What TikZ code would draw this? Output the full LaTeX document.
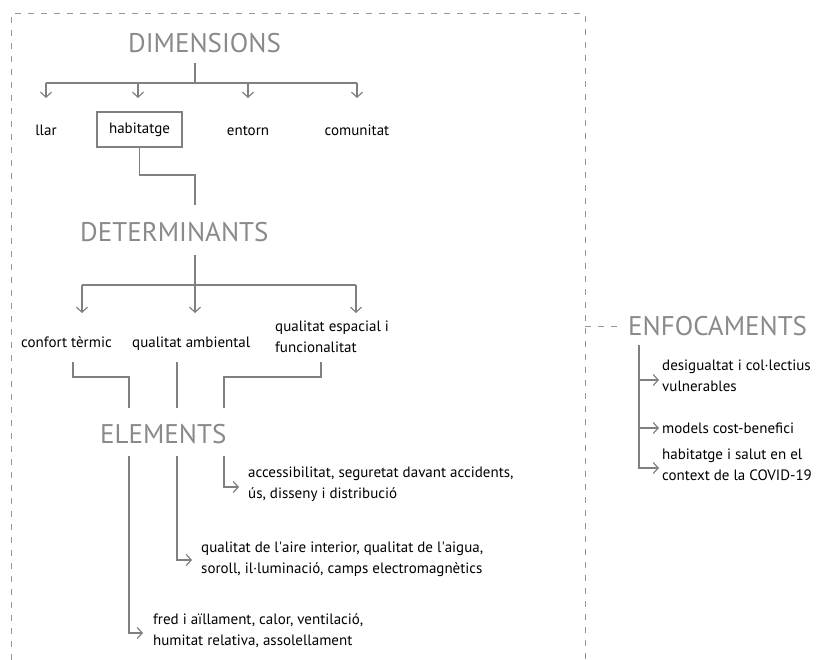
\documentclass[tikz,border=0pt]{standalone}
\usepackage{fontspec}
\setmainfont{PT Sans}
\usetikzlibrary{arrows.meta}
\definecolor{linegray}{RGB}{128,128,128}
\definecolor{headgray}{RGB}{138,138,138}
\definecolor{framegray}{RGB}{150,150,150}
\begin{document}
\begin{tikzpicture}[x=1pt,y=-1pt,
  headtext/.style={font=\fontsize{27}{27}\selectfont, text=headgray, inner sep=0pt, anchor=base west},
  itemtext/.style={font=\fontsize{15}{21}\selectfont, inner sep=0pt},
  blocktext/.style={itemtext, anchor=base west, align=left},
  conn/.style={draw=linegray, line width=1.2pt},
  arr/.style={conn, -{Straight Barb[length=5pt,width=11pt]}},
  dashframe/.style={draw=framegray, line width=1pt, dash pattern=on 6pt off 7pt},
]
\useasboundingbox (0,0) rectangle (840,660);

% dashed frame around the three levels, with a lead to the approaches
\coordinate (fl) at (11,660);
\coordinate (ftl) at (11,14);
\coordinate (ftr) at (585,14);
\coordinate (fr) at (585,660);
\coordinate (fm) at (585,326);
\coordinate (fe) at (622,326);
\draw[dashframe] (fl) -- (ftl) -- (ftr) -- (fr);
\draw[dashframe] (fm) -- (fe);

% headings
\node[headtext] (dim) at (128,53) {DIMENSIONS};
\node[headtext] (det) at (80,242) {DETERMINANTS};
\node[headtext] (ele) at (100,443) {ELEMENTS};
\node[headtext] (enf) at (628,335) {ENFOCAMENTS};

% dimensions
\node[itemtext, anchor=base] (llar) at (46,136) {llar};
\node[itemtext, draw=linegray, line width=1.2pt, minimum width=85pt, minimum height=35pt] (hab) at (139.5,129.5) {habitatge};
\node[itemtext, anchor=base] (ent) at (248,136) {entorn};
\node[itemtext, anchor=base] (com) at (357,136) {comunitat};

\coordinate (d0) at (195,63);
\coordinate (d1) at (195,83);
\coordinate (a1) at (46,83);
\coordinate (a2) at (138,83);
\coordinate (a3) at (248,83);
\coordinate (a4) at (357,83);
\coordinate (dtip) at (0,98);
\draw[conn] (d0) -- (d1);
\draw[conn] (a1) -- (a4);
\foreach \c in {a1,a2,a3,a4} \draw[arr] (\c) -- (\c |- dtip);

% habitatge leads to the determinants
\coordinate (hk) at (195,175);
\coordinate (dt0) at (195,205);
\draw[conn] (hab.south) |- (hk) -- (dt0);

% determinants (two-line blocks are placed by the baseline of their last line)
\node[itemtext, anchor=base west] (conf) at (21,347) {confort tèrmic};
\node[itemtext, anchor=base west] (amb) at (132,347) {qualitat ambiental};
\node[blocktext] (esp) at (275,352) {qualitat espacial i\\funcionalitat};

\coordinate (t0) at (195,255);
\coordinate (t1) at (82,285);
\coordinate (t2) at (195,285);
\coordinate (t3) at (356,285);
\coordinate (ttip) at (0,313);
\draw[conn] (t0) -- (t2);
\draw[conn] (t1) -- (t3);
\foreach \c in {t1,t2,t3} \draw[arr] (\c) -- (\c |- ttip);

% determinants lead to the elements
\coordinate (c0) at (73,362);
\coordinate (c1) at (129,377);
\coordinate (c2) at (129,408);
\coordinate (m0) at (177,362);
\coordinate (m2) at (177,408);
\coordinate (s0) at (321,362);
\coordinate (s1) at (224,377);
\coordinate (s2) at (224,408);
\draw[conn] (c0) |- (c1) -- (c2);
\draw[conn] (m0) -- (m2);
\draw[conn] (s0) |- (s1) -- (s2);

% elements
\node[blocktext] (eacc) at (248,498) {accessibilitat, seguretat davant accidents,\\ús, disseny i distribució};
\node[blocktext] (eair) at (201,573) {qualitat de l\textquotesingle aire interior, qualitat de l\textquotesingle aigua,\\soroll, il·luminació, camps electromagnètics};
\node[blocktext] (efre) at (153,645) {fred i aïllament, calor, ventilació,\\humitat relativa, assolellament};

\coordinate (e1) at (129,456);
\coordinate (e1t) at (143,633);
\coordinate (e2) at (177,456);
\coordinate (e2t) at (192,560);
\coordinate (e3) at (224,456);
\coordinate (e3t) at (239,487);
\draw[arr] (e1) |- (e1t);
\draw[arr] (e2) |- (e2t);
\draw[arr] (e3) |- (e3t);

% approaches
\node[blocktext] (fdes) at (662,391) {desigualtat i col·lectius\\vulnerables};
\node[blocktext] (fcb) at (662,433) {models cost-benefici};
\node[blocktext] (fcov) at (662,480) {habitatge i salut en el\\context de la COVID-19};

\coordinate (f0) at (639,345);
\coordinate (f1) at (639,380);
\coordinate (f1t) at (659,380);
\coordinate (f2) at (639,428);
\coordinate (f2t) at (659,428);
\coordinate (f3t) at (659,468);
\draw[conn] (f0) -- (f2);
\draw[arr] (f1) -- (f1t);
\draw[arr] (f2) -- (f2t);
\draw[arr] (f0) |- (f3t);
\end{tikzpicture}
\end{document}
